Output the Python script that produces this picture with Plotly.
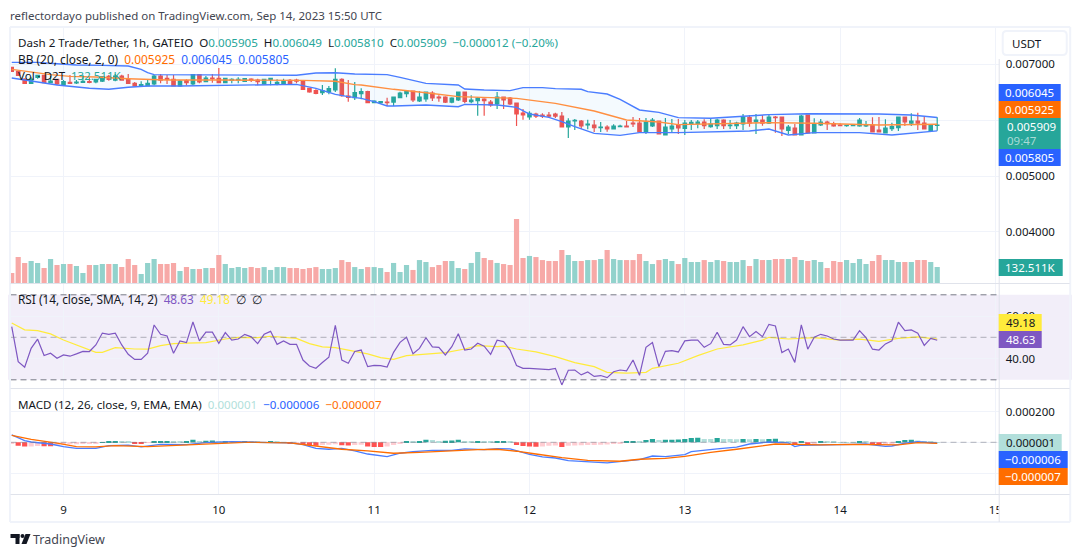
import numpy as np
import plotly.graph_objects as go

# The page body keeps its default 8px margin, so the figure is 8px smaller than
# the window and px()/py() below take window pixels.
PAGE_MARGIN = 8
WIDTH, HEIGHT = 1080 - PAGE_MARGIN, 557 - PAGE_MARGIN
GREEN = "#26a69a"
RED = "#ef5350"
BLUE = "#2962ff"
ORANGE = "#ff6d00"
PURPLE = "#7e57c2"
YELLOW = "#ffeb3b"
GRID = "#f0f3fa"
BORDER = "#e0e3eb"
TEXT = "#131722"
FONT = "Noto Sans"

# All prices below are in millionths of a USDT.
CANDLE_INDEX = list(range(144))

OPEN = [
    6941, 6869, 6732, 6655, 6762, 6798, 6667, 6726, 6625, 6673, 6661, 6673, 6685, 6679, 6696, 6780,
    6714, 6786, 6726, 6655, 6607, 6607, 6643, 6786, 6744, 6726, 6607, 6702, 6643, 6810, 6685, 6750,
    6744, 6667, 6708, 6714, 6691, 6732, 6714, 6643, 6726, 6655, 6643, 6708, 6714, 6685, 6566, 6524,
    6488, 6500, 6536, 6726, 6429, 6399, 6470, 6506, 6310, 6310, 6321, 6321, 6399, 6470, 6518, 6339,
    6375, 6482, 6411, 6411, 6321, 6357, 6500, 6328, 6345, 6375, 6321, 6286, 6411, 6393, 6304, 6125,
    6054, 6107, 6089, 6089, 6107, 6071, 5875, 5982, 5982, 5911, 5911, 5863, 5875, 5839, 5881, 5893,
    5946, 5946, 5786, 5893, 5982, 5732, 5839, 5911, 5851, 5929, 5935, 5964, 5881, 5899, 6000, 5899,
    5899, 5929, 6042, 5970, 6000, 5946, 6054, 6054, 5816, 5857, 5732, 6089, 5768, 5911, 5964, 5935,
    5911, 5899, 5899, 5893, 5893, 5911, 5821, 5768, 5845, 5863, 6054, 5946, 5982, 5946, 5816, 5905,
]
HIGH = [
    6953, 6881, 6744, 6762, 6810, 6810, 6786, 6738, 6714, 6804, 6714, 6804, 6762, 6738, 6786, 6804,
    6822, 6810, 6822, 6679, 6691, 6714, 6804, 6822, 6804, 6804, 6714, 6726, 6822, 6822, 6786, 6822,
    6929, 6756, 6744, 6762, 6744, 6744, 6738, 6738, 6744, 6726, 6738, 6732, 6738, 6714, 6578, 6548,
    6625, 6607, 6923, 6744, 6714, 6679, 6566, 6524, 6351, 6339, 6399, 6417, 6506, 6524, 6518, 6518,
    6506, 6512, 6441, 6423, 6405, 6506, 6506, 6441, 6411, 6387, 6357, 6500, 6411, 6411, 6310, 6196,
    6155, 6131, 6119, 6143, 6131, 6143, 6030, 6018, 6000, 6006, 6000, 5964, 5905, 5923, 5917, 5982,
    6054, 6036, 6036, 6036, 5982, 6036, 6018, 6018, 6000, 6000, 6000, 6012, 6030, 6024, 6012, 6000,
    5970, 6107, 6089, 6107, 6089, 6107, 6071, 6054, 5911, 5929, 6089, 6089, 6030, 6018, 5988, 5970,
    5941, 5917, 5911, 6036, 5982, 6048, 6054, 6012, 5952, 6054, 6054, 6119, 6131, 6054, 5917, 6049,
]
LOW = [
    6857, 6786, 6643, 6643, 6738, 6655, 6655, 6625, 6613, 6643, 6643, 6661, 6655, 6655, 6679, 6702,
    6691, 6702, 6643, 6601, 6601, 6601, 6619, 6655, 6643, 6601, 6595, 6619, 6625, 6655, 6673, 6667,
    6655, 6655, 6655, 6655, 6679, 6679, 6619, 6631, 6619, 6619, 6625, 6625, 6655, 6536, 6488, 6458,
    6447, 6458, 6500, 6417, 6328, 6357, 6369, 6310, 6310, 6286, 6250, 6250, 6387, 6405, 6321, 6321,
    6328, 6339, 6328, 6304, 6298, 6339, 6298, 6298, 6078, 6078, 6238, 6196, 6196, 6268, 5893, 6006,
    6006, 6036, 6036, 6036, 6036, 5875, 5679, 5821, 5839, 5834, 5786, 5786, 5792, 5834, 5869, 5875,
    5875, 5786, 5750, 5875, 5750, 5732, 5768, 5750, 5732, 5821, 5851, 5839, 5863, 5839, 5839, 5839,
    5839, 5821, 5881, 5750, 5899, 5929, 5774, 5714, 5750, 5732, 5732, 5768, 5768, 5893, 5821, 5881,
    5893, 5881, 5893, 5881, 5875, 5786, 5786, 5762, 5804, 5804, 5893, 5893, 5821, 5834, 5804, 5810,
]
CLOSE = [
    6869, 6798, 6655, 6732, 6798, 6667, 6696, 6643, 6685, 6655, 6679, 6691, 6673, 6726, 6774, 6726,
    6786, 6714, 6655, 6607, 6631, 6655, 6786, 6714, 6726, 6607, 6696, 6667, 6810, 6679, 6750, 6738,
    6667, 6744, 6726, 6726, 6738, 6708, 6685, 6726, 6744, 6673, 6696, 6655, 6696, 6548, 6500, 6476,
    6524, 6560, 6726, 6435, 6405, 6488, 6506, 6310, 6339, 6328, 6310, 6411, 6482, 6512, 6357, 6411,
    6500, 6393, 6393, 6321, 6393, 6500, 6334, 6357, 6393, 6345, 6268, 6411, 6357, 6286, 6107, 6089,
    6119, 6071, 6071, 6071, 6071, 5875, 5982, 5994, 5893, 5929, 5863, 5875, 5839, 5893, 5893, 5875,
    5929, 5786, 5964, 6000, 5750, 5875, 5893, 5857, 5946, 5958, 5964, 5899, 5929, 6000, 5899, 5911,
    5946, 6042, 5946, 6000, 5946, 6054, 6042, 5839, 5875, 5732, 6071, 5768, 5929, 5964, 5935, 5893,
    5899, 5905, 5905, 6000, 5911, 5786, 5786, 5857, 5881, 6054, 5964, 5982, 5946, 5839, 5905, 5909,
]

# Volume in thousands of D2T.
VOLUME = [
    83, 215, 166, 182, 166, 124, 199, 149, 157, 157, 141, 83, 149, 149, 157, 157,
    157, 132, 199, 149, 75, 166, 199, 157, 157, 166, 99, 132, 116, 116, 124, 124,
    232, 157, 124, 132, 124, 132, 124, 132, 108, 132, 132, 124, 124, 116, 124, 132,
    116, 116, 124, 190, 174, 132, 116, 132, 132, 124, 91, 166, 91, 149, 108, 190,
    174, 132, 149, 182, 182, 124, 116, 166, 257, 207, 190, 166, 157, 149, 530, 207,
    224, 215, 190, 182, 182, 273, 232, 182, 182, 190, 190, 199, 273, 199, 190, 190,
    190, 240, 182, 157, 190, 199, 182, 157, 207, 174, 174, 190, 174, 190, 182, 174,
    174, 190, 141, 199, 190, 190, 199, 199, 199, 215, 190, 182, 190, 174, 124, 182,
    174, 190, 166, 199, 157, 182, 232, 190, 190, 174, 174, 174, 190, 190, 174, 132.511,
]

BB_UPPER_AT = [0, 4, 7, 10, 14, 18, 20, 21, 22, 30, 44, 47, 50, 53, 56, 58, 60, 62, 64, 69, 70, 73, 76, 77, 79, 82,
               84, 88, 89, 92, 94, 97, 100, 103, 108, 113, 117, 123, 134, 139, 143]
BB_UPPER = [7030, 7030, 7006, 6982, 6976, 6965, 6905, 6845, 6810, 6804, 6798, 6839, 6845, 6822, 6822, 6810, 6762,
            6714, 6655, 6625, 6554, 6536, 6518, 6524, 6578, 6578, 6560, 6548, 6506, 6464, 6369, 6179, 6137, 6042,
            6030, 6060, 6096, 6113, 6107, 6089, 6045]
BB_LOWER_AT = [0, 2, 7, 12, 15, 18, 21, 26, 41, 44, 47, 50, 52, 54, 56, 58, 59, 64, 69, 70, 75, 78, 80, 83, 85, 87,
               90, 94, 97, 103, 114, 117, 120, 124, 131, 136, 143]
BB_LOWER = [6750, 6714, 6625, 6566, 6548, 6584, 6607, 6607, 6637, 6637, 6566, 6458, 6417, 6387, 6328, 6250, 6250,
            6268, 6238, 6280, 6268, 6226, 6107, 6048, 5970, 5881, 5762, 5726, 5774, 5774, 5804, 5839, 5732, 5774,
            5774, 5732, 5805]
BB_BASIS_AT = [0, 3, 6, 9, 13, 18, 24, 32, 40, 45, 50, 53, 54, 59, 64, 69, 74, 78, 84, 90, 95, 100, 103, 108, 117,
               124, 134, 143]
BB_BASIS = [6905, 6857, 6810, 6780, 6768, 6738, 6714, 6714, 6714, 6708, 6691, 6631, 6625, 6548, 6488, 6417, 6399,
            6387, 6298, 6161, 6000, 5964, 5917, 5929, 5953, 5941, 5911, 5925]

RSI = [
    55.0, 38.5, 35.9, 44.8, 49.1, 41.4, 42.5, 40.1, 41.7, 41.1, 42.2, 43.4, 43.3, 46.4, 52.0, 51.4,
    51.9, 46.4, 42.0, 39.6, 39.6, 42.5, 55.8, 51.4, 50.6, 42.5, 48.3, 47.5, 57.2, 48.3, 52.4, 52.4,
    47.2, 52.2, 48.7, 49.2, 51.4, 50.2, 47.0, 51.4, 52.8, 46.7, 48.3, 46.7, 46.7, 39.3, 36.5, 35.4,
    38.1, 40.6, 55.6, 39.3, 37.8, 43.3, 44.0, 36.2, 36.8, 36.7, 36.0, 42.9, 47.6, 50.0, 42.3, 44.8,
    49.8, 45.5, 45.3, 41.7, 45.6, 51.7, 44.0, 44.5, 47.2, 45.8, 42.0, 48.6, 48.0, 44.0, 36.7, 35.4,
    35.4, 35.1, 34.9, 34.8, 35.4, 27.6, 34.5, 34.6, 32.3, 33.7, 31.6, 32.0, 31.0, 33.8, 34.6, 34.2,
    39.3, 32.1, 45.3, 47.5, 36.2, 43.4, 43.7, 43.1, 48.3, 48.7, 48.7, 45.3, 47.0, 52.4, 46.7, 46.4,
    48.7, 55.0, 50.3, 52.7, 50.3, 56.1, 55.3, 42.8, 44.5, 38.2, 55.8, 44.4, 50.0, 51.4, 50.6, 49.2,
    48.7, 48.7, 48.7, 53.1, 49.8, 44.4, 44.0, 46.9, 48.3, 57.1, 53.1, 53.5, 51.9, 46.2, 49.5, 48.63,
]
RSI_MA_AT = [0, 2, 4, 6, 8, 10, 12, 13, 14, 16, 19, 21, 23, 25, 27, 30, 33, 35, 38, 40, 44, 46, 48, 50, 52, 55, 57,
             59, 61, 64, 67, 70, 72, 75, 76, 78, 81, 84, 87, 90, 92, 95, 98, 99, 103, 106, 109, 113, 116, 117, 120,
             124, 128, 131, 134, 137, 140, 143]
RSI_MA = [56.7, 53.5, 53.1, 51.6, 48.7, 46.4, 44.0, 42.9, 42.9, 45.1, 44.5, 44.4, 46.1, 47.0, 47.3, 47.5, 49.2, 50.0,
          49.8, 50.5, 49.5, 47.0, 45.5, 45.1, 44.0, 42.2, 40.4, 39.6, 41.4, 42.0, 42.8, 44.5, 46.1, 45.6, 45.8, 44.5,
          43.1, 40.9, 38.1, 36.2, 33.5, 33.1, 33.5, 35.4, 37.8, 41.4, 44.5, 46.4, 48.7, 50.0, 49.2, 49.8, 48.7, 49.1,
          48.1, 49.5, 50.2, 49.18]

# MACD values in millionths of a USDT.
MACD_AT = [0, 2, 3, 6, 8, 10, 13, 15, 18, 20, 23, 27, 30, 34, 38, 43, 45, 47, 49, 51, 53, 55, 58, 60, 62, 65, 68,
           70, 73, 75, 77, 80, 82, 84, 86, 89, 92, 95, 97, 99, 101, 104, 105, 109, 112, 114, 117, 120, 121, 122,
           125, 130, 132, 135, 136, 138, 140, 143]
MACD = [48, 11, 2, -11, -28, -39, -39, -22, -19, -30, -13, -15, -2, 4, 0, -4, -15, -39, -45, -39, -56, -76, -93, -71,
        -61, -52, -52, -43, -48, -41, -43, -78, -95, -102, -119, -128, -134, -121, -113, -89, -93, -80, -61, -43,
        -32, -11, 2, -4, -28, -19, -15, -13, -11, -26, -24, -6, 4, -6]
SIGNAL_AT = [0, 3, 7, 10, 13, 16, 21, 27, 31, 36, 43, 47, 51, 55, 59, 63, 68, 72, 75, 78, 81, 85, 89, 94, 97, 101,
             104, 108, 112, 116, 118, 121, 125, 130, 134, 137, 140, 143]
SIGNAL = [45, 19, -6, -28, -30, -22, -28, -17, -6, 0, -4, -24, -45, -56, -71, -65, -54, -48, -45, -58, -76, -100,
          -117, -123, -110, -104, -91, -65, -45, -24, -11, -13, -17, -13, -17, -17, -2, -7]
HISTOGRAM = [
    -5, -22, -28, -27, -24, -25, -26, -19, -15, -13, -12, -11, -8, -6, 1, 8,
    9, 4, 2, -8, -9, -4, 7, 8, 9, 3, 2, 3, 17, 9, 10, 11,
    6, 8, 4, 3, 8, 3, 2, 1, 4, 2, 1, -6, -5, -17, -22, -23,
    -17, -16, -13, -19, -21, -17, -16, -28, -30, -31, -28, -17, -9, 8, 4, 8,
    17, 15, 9, 10, 11, 17, 9, 8, 9, 4, 3, 8, 9, 3, -17, -24,
    -28, -29, -28, -22, -21, -30, -22, -20, -19, -18, -17, -16, -15, -11, -6, 2,
    6, 4, 15, 22, 15, 16, 17, 18, 22, 28, 29, 22, 21, 28, 22, 21,
    20, 22, 20, 22, 20, 22, 23, 7, 2, -17, 2, -13, -6, 7, 3, 2,
    1, 0.8, 0.5, 8, 6, -13, -15, -11, -6, 8, 15, 16, 11, 4, 2, 1,
]

DAY_TICKS = [8, 32, 56, 80, 104, 128, 152]
DAY_LABELS = ["9", "10", "11", "12", "13", "14", "15"]
# The labels at 0.006 and at 0 and -0.0002 on the MACD scale sit behind the
# coloured value tags, so those grid levels carry no text.
PRICE_TICKS = [0.007, 0.006, 0.005, 0.004]
PRICE_LABELS = ["0.007000", "", "0.005000", "0.004000"]
RSI_TICKS = [60, 40]
RSI_LABELS = ["60.00", "40.00"]
MACD_TICKS = [0.0002, 0, -0.0002]
MACD_LABELS = ["0.000200", "", ""]


def px(x):
    # Small stretch measured against the reference after rendering.
    return (x - PAGE_MARGIN + 0.5) * 1.003 / WIDTH


def py(y):
    return 1 - (y - PAGE_MARGIN) / HEIGHT


def micro(values):
    return np.array(values) / 1e6


def histogram_colors(values):
    colors = []
    prev = None
    for v in values:
        rising = prev is None or v > prev
        if v >= 0:
            colors.append(GREEN if rising else "#b2dfdb")
        else:
            colors.append("#ffcdd2" if rising else "#ff5252")
        prev = v
    return colors


fig = go.Figure()

fig.add_trace(go.Bar(
    x=CANDLE_INDEX, y=VOLUME, yaxis="y4",
    marker=dict(
        color=["#92d2cc" if c >= o else "#f7a9a7" for o, c in zip(OPEN, CLOSE)],
        line=dict(width=0),
    ),
))
fig.add_trace(go.Scatter(
    x=BB_LOWER_AT, y=micro(BB_LOWER), mode="lines", line=dict(color="#4a7dff", width=1.4),
))
fig.add_trace(go.Scatter(
    x=BB_UPPER_AT, y=micro(BB_UPPER), mode="lines", line=dict(color="#4a7dff", width=1.4),
    fill="tonexty", fillcolor="rgba(33,150,243,0.05)",
))
fig.add_trace(go.Scatter(
    x=BB_BASIS_AT, y=micro(BB_BASIS), mode="lines", line=dict(color="#ff8f40", width=1.4),
))
fig.add_trace(go.Candlestick(
    x=CANDLE_INDEX, open=micro(OPEN), high=micro(HIGH), low=micro(LOW), close=micro(CLOSE),
    increasing=dict(line=dict(color=GREEN, width=1.2), fillcolor=GREEN),
    decreasing=dict(line=dict(color=RED, width=1.2), fillcolor=RED),
    whiskerwidth=0,
))

fig.add_trace(go.Scatter(
    x=RSI_MA_AT, y=RSI_MA, yaxis="y2", mode="lines", line=dict(color=YELLOW, width=1.2),
))
fig.add_trace(go.Scatter(
    x=CANDLE_INDEX, y=RSI, yaxis="y2", mode="lines", line=dict(color=PURPLE, width=1.2),
))

fig.add_trace(go.Bar(
    x=CANDLE_INDEX, y=micro(HISTOGRAM), yaxis="y3",
    marker=dict(color=histogram_colors(HISTOGRAM), line=dict(width=0)),
))
fig.add_trace(go.Scatter(
    x=MACD_AT, y=micro(MACD), yaxis="y3", mode="lines", line=dict(color="#4a7dff", width=1.3),
))
fig.add_trace(go.Scatter(
    x=SIGNAL_AT, y=micro(SIGNAL), yaxis="y3", mode="lines", line=dict(color=ORANGE, width=1.3),
))

axis_font = dict(family=FONT, size=11.5, color=TEXT)
y_common = dict(
    side="right", anchor="x", showgrid=True, gridcolor=GRID, gridwidth=1, zeroline=False,
    showline=False, ticks="", ticklabelstandoff=6, tickfont=axis_font, fixedrange=True,
)

fig.update_layout(
    width=WIDTH, height=HEIGHT,
    margin=dict(l=0, r=0, t=0, b=0),
    paper_bgcolor="white", plot_bgcolor="white",
    showlegend=False, bargap=0.2, boxgap=0.25,
    font=dict(family=FONT, size=12, color=TEXT),
    xaxis=dict(
        domain=[px(10), px(998)], anchor="y3", range=[-0.19, 152.5],
        tickvals=DAY_TICKS, ticktext=DAY_LABELS, tickangle=0,
        showgrid=True, gridcolor=GRID, zeroline=False, showline=False,
        ticks="", ticklabelstandoff=7, tickfont=axis_font,
        rangeslider=dict(visible=False),
    ),
    yaxis=dict(
        domain=[py(283), py(27)], range=[0.003089, 0.007661],
        tickvals=PRICE_TICKS, ticktext=PRICE_LABELS, **y_common,
    ),
    yaxis4=dict(
        domain=[py(283), py(27)], range=[0, 2120], overlaying="y", side="left",
        visible=False, fixedrange=True,
    ),
    yaxis2=dict(
        domain=[py(388), py(284)], range=[26.14, 75.08],
        tickvals=RSI_TICKS, ticktext=RSI_LABELS, **y_common,
    ),
    yaxis3=dict(
        domain=[py(494), py(388)], range=[-0.0003357, 0.0003526],
        tickvals=MACD_TICKS, ticktext=MACD_LABELS, **y_common,
    ),
)

# RSI channel and the dashed reference levels.
fig.add_hrect(y0=30, y1=70, yref="y2", xref="x", x0=-0.19, x1=152.5, fillcolor="rgba(126,87,194,0.1)",
              line_width=0, layer="below")
for level, opacity in ((70, 1), (30, 1), (50, 0.55)):
    fig.add_shape(type="line", xref="x", yref="y2", x0=-0.19, x1=152.5, y0=level, y1=level,
                  line=dict(color="#787b86", width=1, dash="6px,4px"), opacity=opacity)
fig.add_shape(type="line", xref="x", yref="y3", x0=-0.19, x1=152.5, y0=0, y1=0,
              line=dict(color="#787b86", width=1, dash="6px,4px"), opacity=0.55)


def paper_rect(x0, y0, x1, y1, fill, line=None, width=0):
    fig.add_shape(type="rect", xref="paper", yref="paper", x0=px(x0), x1=px(x1), y0=py(y1), y1=py(y0),
                  fillcolor=fill, line=dict(color=line or fill, width=width), layer="above")


def paper_line(x0, y0, x1, y1, color=BORDER, width=1):
    fig.add_shape(type="line", xref="paper", yref="paper", x0=px(x0), x1=px(x1), y0=py(y0), y1=py(y1),
                  line=dict(color=color, width=width), layer="above")


def text_at(x, y, text, size=11.5, color=TEXT, anchor="left"):
    fig.add_annotation(xref="paper", yref="paper", x=px(x), y=py(y), text=text, showarrow=False,
                       xanchor=anchor, yanchor="middle", align=anchor, borderpad=0,
                       font=dict(family=FONT, size=size, color=color))


def axis_label(text, x1, y0, y1, bg, color="white"):
    paper_rect(998, y0, x1, y1, bg)
    text_at((998 + x1) / 2, (y0 + y1) / 2, text, color=color, anchor="center")


# Mask the part of the last day label that runs under the price scale.
paper_rect(998, 495, 1068, 521, "white")

# Frame and pane separators.
paper_line(9.5, 27, 1069.5, 27, GRID, 2)
paper_line(9.5, 522, 1069.5, 522, GRID, 2)
paper_line(9.5, 27, 9.5, 522, GRID, 2)
paper_line(1069.5, 27, 1069.5, 522, GRID, 2)
paper_line(10, 283.5, 1069, 283.5)
paper_line(10, 388.5, 1069, 388.5)
paper_line(10, 494.5, 1069, 494.5)
paper_line(998.5, 59, 998.5, 522)

# Currency button on the price scale, with rounded corners.
fig.add_shape(
    type="path", xref="paper", yref="paper", layer="above", fillcolor="white", line=dict(color=GRID, width=2),
    path=(
        f"M {px(1006)} {py(31)} L {px(1062)} {py(31)} Q {px(1066)} {py(31)} {px(1066)} {py(35)} "
        f"L {px(1066)} {py(51)} Q {px(1066)} {py(55)} {px(1062)} {py(55)} L {px(1006)} {py(55)} "
        f"Q {px(1002)} {py(55)} {px(1002)} {py(51)} L {px(1002)} {py(35)} Q {px(1002)} {py(31)} {px(1006)} {py(31)} Z"
    ),
)
text_at(1010, 43, "USDT")

axis_label("0.006045", 1060, 84, 101, BLUE)
axis_label("0.005925", 1060, 101, 118, ORANGE)
paper_rect(998, 118, 1060, 149, GREEN)
text_at(1005, 127, "0.005909", color="white")
text_at(1005, 141, "09:47", color="#a8dbd6")
axis_label("0.005805", 1060, 149, 166, BLUE)
axis_label("132.511K", 1062, 259, 276, GREEN)
axis_label("49.18", 1041, 314, 331, YELLOW, TEXT)
axis_label("48.63", 1041, 331, 348, PURPLE)
axis_label("0.000001", 1061, 434, 451, "#b2dfdb", TEXT)
axis_label("−0.000006", 1067, 451, 468, BLUE)
axis_label("−0.000007", 1067, 468, 485, ORANGE)


def colored(text, color):
    return f'<span style="color:{color}">{text}</span>'


text_at(8.5, 15, "reflectordayo published on TradingView.com, Sep 14, 2023 15:50 UTC", color="#434651")
text_at(
    16.5, 42,
    "Dash 2 Trade/Tether, 1h, GATEIO  O" + colored("0.005905", GREEN)
    + "  H" + colored("0.006049", GREEN) + "  L" + colored("0.005810", GREEN)
    + "  C" + colored("0.005909", GREEN) + "  " + colored("−0.000012 (−0.20%)", GREEN),
    size=11.6,
)
text_at(16.5, 59, "BB (20, close, 2, 0)  " + colored("0.005925", ORANGE) + "  " + colored("0.006045", BLUE)
        + "  " + colored("0.005805", BLUE), size=11.9)
text_at(16.5, 75, "Vol · D2T  " + colored("132.511K", GREEN))
text_at(16.5, 299, "RSI (14, close, SMA, 14, 2)  " + colored("48.63", PURPLE) + "  " + colored("49.18", YELLOW)
        + "  ∅  ∅", size=11.8)
text_at(16.5, 404, "MACD (12, 26, close, 9, EMA, EMA)  " + colored("0.000001", "#b2dfdb") + "  "
        + colored("−0.000006", BLUE) + "  " + colored("−0.000007", ORANGE), size=11.6)

# TradingView mark and wordmark.
paper_rect(10, 534, 19, 538, TEXT)
paper_rect(15, 534, 19, 544, TEXT)
fig.add_shape(type="circle", xref="paper", yref="paper", x0=px(20), x1=px(24), y0=py(538), y1=py(534),
              fillcolor=TEXT, line_width=0, layer="above")
fig.add_shape(type="path", xref="paper", yref="paper", layer="above", fillcolor=TEXT, line_width=0,
              path=f"M {px(25)} {py(534)} L {px(30)} {py(534)} L {px(26)} {py(544)} L {px(21)} {py(544)} Z")
text_at(31.5, 539, "TradingView", size=12.5, color="#434651")

fig.write_html("out.html")
